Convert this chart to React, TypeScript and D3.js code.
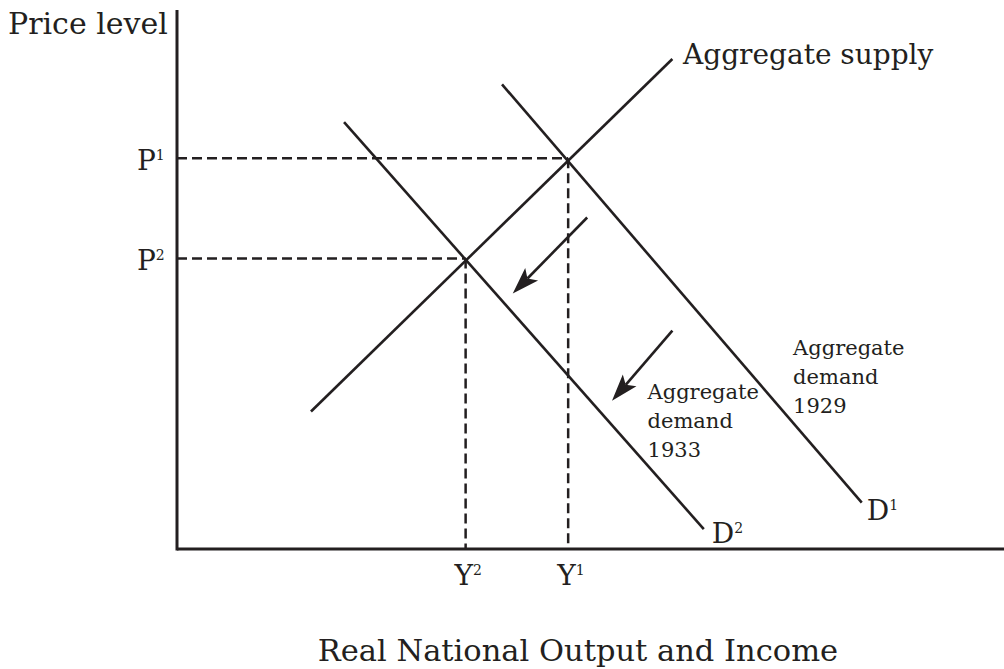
import React from "react";
import * as d3 from "d3";

const WIDTH = 1004;
const HEIGHT = 669;
const FONT = "'DejaVu Serif', serif";

// curves, in output (x) / price (y) units on a 0..100 scale
const supplyCurve = [
  { x: 16.2, y: 25.5 },
  { x: 59.9, y: 90.9 },
];
const demand1929 = [
  { x: 39.3, y: 86.2 },
  { x: 82.8, y: 8.6 },
];
const demand1933 = [
  { x: 20.2, y: 79.2 },
  { x: 63.7, y: 3.7 },
];
const equilibria = [
  { name: "1", x: 47.3, y: 72.5 },
  { name: "2", x: 34.9, y: 53.9 },
];
const shiftArrows = [
  [{ x: 49.6, y: 61.5 }, { x: 40.6, y: 47.4 }],
  [{ x: 59.9, y: 40.5 }, { x: 52.6, y: 27.5 }],
];
const demandNotes = [
  { lines: ["Aggregate", "demand", "1929"], x: 74.5, y: 36.0 },
  { lines: ["Aggregate", "demand", "1933"], x: 56.9, y: 27.8 },
];

const x = d3.scaleLinear().domain([0, 100]).range([177, 1004]);
const y = d3.scaleLinear().domain([0, 100]).range([549, 10]);

const line = d3
  .line<{ x: number; y: number }>()
  .x((d) => x(d.x))
  .y((d) => y(d.y));

const Sup = ({ base, sup, px, py, size }: any) => (
  <text x={px} y={py} fontFamily={FONT} fontSize={size} fill="#231f20">
    {base}
    <tspan fontSize={size * 0.5} dy={-size * 0.36}>
      {sup}
    </tspan>
  </text>
);

export default function App() {
  const arrowHead = (a: { x: number; y: number }, b: { x: number; y: number }) => {
    const x1 = x(a.x), y1 = y(a.y), x2 = x(b.x), y2 = y(b.y);
    const ang = Math.atan2(y2 - y1, x2 - x1);
    const len = 27, half = 9;
    const bx = x2 - len * Math.cos(ang), by = y2 - len * Math.sin(ang);
    const nx = -Math.sin(ang), ny = Math.cos(ang);
    const inset = 6;
    const ix = bx + inset * Math.cos(ang), iy = by + inset * Math.sin(ang);
    return {
      shaft: `M${x1},${y1}L${ix},${iy}`,
      head: `M${x2},${y2}L${bx + nx * half},${by + ny * half}L${ix},${iy}L${bx - nx * half},${by - ny * half}Z`,
    };
  };

  return (
    <svg
      width={WIDTH}
      height={HEIGHT}
      style={{ position: "absolute", left: 0, top: 0, background: "#fff" }}
    >
      {/* dashed guides */}
      {equilibria.map((e) => (
        <g key={e.name} stroke="#231f20" strokeWidth={2.5} strokeDasharray="10,5" fill="none">
          <line x1={x(0)} y1={y(e.y)} x2={x(e.x)} y2={y(e.y)} />
          <line x1={x(e.x)} y1={y(e.y)} x2={x(e.x)} y2={y(0)} />
        </g>
      ))}

      {/* axes */}
      <line x1={x(0)} y1={10} x2={x(0)} y2={y(0) + 1.5} stroke="#231f20" strokeWidth={3} />
      <line x1={x(0)} y1={y(0)} x2={WIDTH} y2={y(0)} stroke="#231f20" strokeWidth={3} />

      {/* curves */}
      {[supplyCurve, demand1929, demand1933].map((c, i) => (
        <path key={i} d={line(c) || ""} stroke="#231f20" strokeWidth={2.6} fill="none" />
      ))}

      {/* shift arrows */}
      {shiftArrows.map(([a, b], i) => {
        const ah = arrowHead(a, b);
        return (
          <g key={i}>
            <path d={ah.shaft} stroke="#231f20" strokeWidth={2.6} fill="none" />
            <path d={ah.head} fill="#231f20" />
          </g>
        );
      })}

      {/* axis titles */}
      <text x={8} y={34} fontFamily={FONT} fontSize={30} fill="#231f20">
        Price level
      </text>
      <text
        x={578}
        y={661}
        fontFamily={FONT}
        fontSize={30.5}
        textAnchor="middle"
        fill="#231f20"
      >
        Real National Output and Income
      </text>

      <text x={683} y={64} fontFamily={FONT} fontSize={28} fill="#231f20">
        Aggregate supply
      </text>

      {/* P and Y labels */}
      {equilibria.map((e) => (
        <g key={"p" + e.name}>
          <Sup base="P" sup={e.name} px={137} py={y(e.y) + 12} size={28} />
          <Sup base="Y" sup={e.name} px={x(e.x) - 11} py={585} size={28} />
        </g>
      ))}

      {/* D labels */}
      <Sup base="D" sup="1" px={x(demand1929[1].x) + 5} py={520} size={28} />
      <Sup base="D" sup="2" px={x(demand1933[1].x) + 8} py={543} size={28} />

      {/* demand notes */}
      {demandNotes.map((n, i) => (
        <text key={i} fontFamily={FONT} fontSize={21} fill="#231f20">
          {n.lines.map((l, j) => (
            <tspan key={j} x={x(n.x)} y={y(n.y) + j * 29}>
              {l}
            </tspan>
          ))}
        </text>
      ))}
    </svg>
  );
}
